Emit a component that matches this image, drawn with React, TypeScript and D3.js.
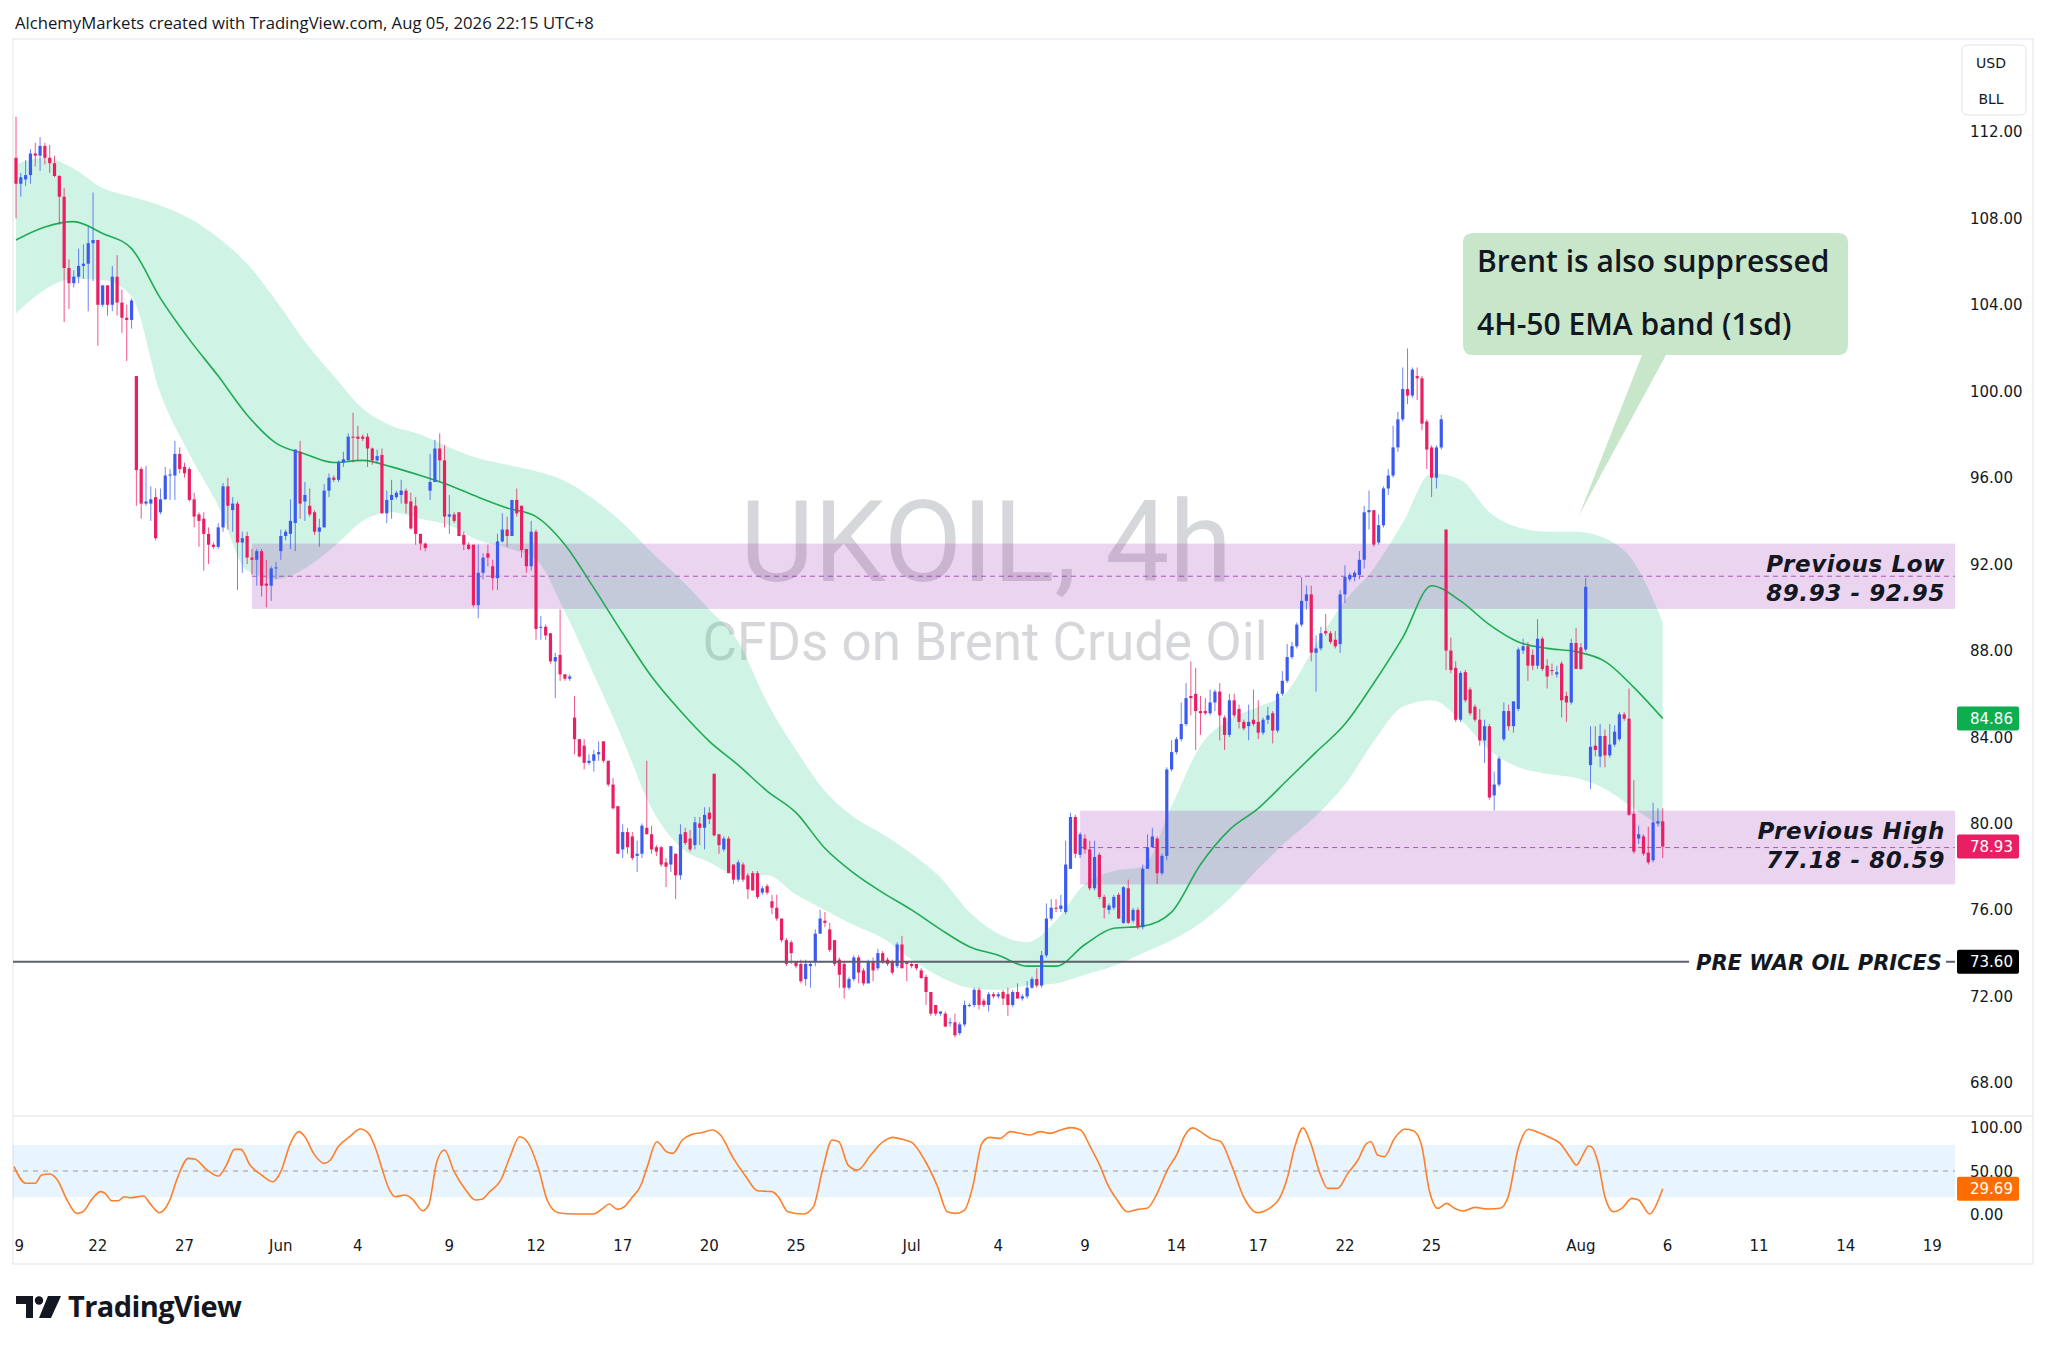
import * as d3 from 'd3';

// 4h candles, [open, high, low, close] (May 19 -> Aug 5)
const ohlc: [number, number, number, number][] = [
  [110.8,112.7,108.0,109.6],[109.6,110.1,109.0,109.9],[109.8,110.7,109.5,110.0],[110.0,111.2,109.6,111.0],[111.0,111.5,110.4,110.9],[110.9,111.75,110.2,111.35],
  [111.35,111.5,110.5,110.8],[110.8,111.4,110.1,110.55],[110.55,110.9,109.9,109.96],[109.96,110.0,107.7,109.0],[109.0,109.4,103.2,105.7],[105.7,106.1,103.8,105.0],
  [105.0,105.6,104.8,105.3],[105.3,106.6,105.0,105.8],[105.8,106.8,105.2,105.9],[105.9,107.6,103.7,106.85],[106.85,109.2,105.1,107.0],[107.0,107.0,102.1,104.0],
  [104.0,104.9,103.9,104.9],[104.9,104.9,103.5,104.0],[104.0,105.8,103.7,105.3],[105.3,106.3,103.5,104.1],[104.1,104.7,102.7,103.4],[103.4,104.0,101.4,103.3],
  [103.3,104.3,102.9,104.2],[100.7,100.7,94.7,96.35],[96.4,96.5,94.1,94.8],[94.8,96.55,94.7,94.9],[94.8,95.6,94.0,95.0],[95.1,95.5,93.1,93.2],
  [94.4,95.5,94.3,95.0],[95.0,96.5,94.97,96.1],[96.1,96.4,94.97,96.15],[96.1,97.7,94.97,97.1],[97.1,97.4,96.2,96.4],[96.5,96.7,96.0,96.2],
  [96.4,96.5,94.9,94.97],[95.0,95.3,93.7,94.2],[94.3,94.4,92.8,94.0],[94.1,94.4,91.7,93.4],[93.4,93.7,92.0,92.9],[92.9,93.0,92.7,92.8],
  [92.8,93.9,92.7,93.7],[93.7,95.75,93.5,95.6],[95.6,96.0,93.6,94.7],[94.5,95.1,93.5,94.8],[94.8,94.9,90.8,93.0],[93.0,93.5,91.6,93.2],
  [93.3,93.5,92.0,92.3],[92.3,92.7,91.5,92.2],[92.2,92.7,91.0,92.6],[92.6,92.7,90.5,91.0],[91.1,92.2,90.0,91.0],[91.0,91.9,90.3,91.8],
  [91.8,92.1,91.3,91.85],[92.6,93.6,92.2,93.3],[93.3,93.6,93.1,93.5],[93.4,95.0,92.7,94.0],[93.9,97.3,92.6,97.3],[97.2,97.7,94.1,94.8],
  [94.9,95.8,94.0,95.2],[94.7,95.5,94.2,94.3],[94.4,94.5,93.35,93.5],[93.5,94.1,92.8,93.7],[93.7,95.7,93.7,95.4],[95.4,96.2,95.1,96.0],
  [96.0,96.1,95.8,95.9],[95.9,96.8,95.8,96.7],[96.7,97.2,96.5,96.85],[96.8,98.05,96.8,97.9],[97.9,99.0,96.7,97.85],[97.9,98.4,96.8,97.8],
  [97.9,98.0,97.7,97.8],[97.9,98.05,96.5,97.35],[97.35,97.4,96.6,96.8],[96.8,97.3,96.7,97.0],[97.05,97.35,94.35,94.35],[94.35,95.4,93.9,94.97],
  [94.97,95.9,94.1,95.2],[95.1,95.4,95.0,95.3],[95.2,95.9,94.8,95.4],[95.4,95.5,94.35,94.8],[94.9,95.3,93.6,93.65],[94.7,95.1,92.9,93.4],
  [93.4,93.4,92.65,92.95],[92.95,93.0,92.6,92.75],[95.4,97.1,94.97,95.8],[95.8,97.75,95.8,97.35],[97.35,98.05,95.8,96.8],[96.8,97.5,93.7,94.2],
  [94.2,95.2,93.4,94.3],[94.3,94.4,93.9,94.0],[94.4,94.4,93.3,93.3],[93.35,93.5,92.65,92.9],[92.9,93.0,92.65,92.7],[92.9,92.9,90.0,90.1],
  [90.1,92.9,89.5,91.6],[91.6,92.5,91.3,92.3],[92.5,92.9,91.9,92.3],[91.9,92.2,90.8,91.35],[91.35,93.4,90.8,93.05],[93.05,94.35,93.0,93.6],
  [93.6,94.2,92.8,93.3],[93.3,94.97,93.3,94.97],[94.97,95.5,94.2,94.35],[94.7,94.7,92.3,92.65],[92.7,92.7,91.6,91.9],[91.9,94.0,91.7,93.5],
  [93.5,93.6,88.5,89.0],[89.1,89.6,88.5,89.1],[89.1,89.2,88.5,88.7],[88.8,88.8,87.4,87.5],[87.5,87.9,85.8,87.7],[87.8,89.9,86.6,86.9],
  [86.9,86.9,86.6,86.7],[86.7,86.9,86.6,86.8],[84.9,85.9,83.2,83.9],[83.9,83.9,83.05,83.1],[83.6,83.9,82.5,82.8],[82.8,83.2,82.7,82.9],
  [82.9,83.4,82.4,83.2],[83.2,83.8,82.9,83.3],[83.8,83.8,82.8,82.9],[82.9,82.9,81.7,81.8],[81.8,82.1,80.65,80.7],[80.8,80.8,78.6,78.6],
  [78.8,79.96,78.4,79.6],[79.6,79.8,78.6,78.9],[79.4,79.6,78.3,78.4],[78.5,79.2,77.75,78.6],[78.6,80.0,78.4,79.9],[79.8,82.9,79.5,79.5],
  [79.5,79.9,78.6,78.8],[78.9,79.0,78.5,78.7],[78.9,78.95,78.0,78.1],[78.2,78.4,77.06,78.0],[78.1,78.95,77.75,78.95],[78.6,78.6,76.5,77.6],
  [77.6,79.96,77.4,79.5],[79.6,79.8,79.0,79.1],[79.3,79.7,78.7,78.8],[79.0,80.3,78.8,80.05],[80.0,80.3,79.0,79.8],[79.8,80.75,78.8,80.4],
  [80.5,80.75,79.97,80.2],[82.3,82.3,79.4,79.45],[79.5,79.5,78.6,79.0],[78.8,79.4,78.7,79.3],[79.3,79.4,77.7,77.7],[78.1,78.1,77.2,77.4],
  [77.4,78.3,77.3,78.2],[78.1,78.2,77.3,77.4],[77.6,77.7,76.5,76.95],[77.7,77.8,76.9,76.9],[77.7,77.8,76.5,76.6],[76.8,77.1,76.7,77.0],
  [77.1,77.2,76.7,76.8],[76.4,76.7,75.8,76.1],[76.1,76.7,75.5,75.6],[75.6,75.6,74.5,74.6],[74.6,74.7,73.4,73.5],[74.5,74.6,73.5,74.0],
  [73.6,73.6,73.3,73.4],[73.5,73.7,72.6,72.7],[72.8,73.7,72.5,73.5],[73.4,73.6,72.4,73.5],[73.6,75.1,73.4,74.9],[74.9,76.0,74.9,75.6],
  [75.5,75.9,75.2,75.4],[75.1,75.4,74.05,74.15],[74.6,74.6,73.4,73.5],[73.7,73.8,72.4,73.0],[73.5,73.6,71.9,72.4],[72.4,72.9,72.3,72.8],
  [72.8,73.9,72.7,73.8],[73.8,73.9,72.6,73.1],[73.2,73.3,72.5,72.6],[72.6,73.7,72.6,73.6],[73.6,73.8,72.7,73.2],[73.3,74.2,73.2,74.0],
  [74.0,74.1,73.5,73.6],[73.7,73.8,73.4,73.5],[73.6,73.7,73.0,73.1],[73.4,74.5,73.3,74.4],[74.4,74.8,73.3,73.3],[73.6,73.6,72.7,73.5],
  [73.5,73.6,73.3,73.4],[73.5,73.5,73.2,73.3],[73.2,73.3,72.8,72.85],[72.9,73.0,71.6,72.2],[72.2,72.2,71.1,71.2],[71.6,71.6,71.1,71.2],
  [71.2,71.3,71.1,71.3],[71.2,71.3,70.6,70.6],[70.8,71.0,70.6,70.8],[70.8,71.2,70.1,70.2],[70.3,70.8,70.2,70.7],[70.7,71.8,70.6,71.6],
  [71.6,71.7,71.5,71.6],[71.6,72.4,71.5,72.3],[72.3,72.4,71.4,71.6],[71.8,71.9,71.5,71.6],[71.6,72.2,71.3,72.1],[72.1,72.2,71.9,72.0],
  [72.0,72.2,71.9,72.1],[72.2,72.3,71.6,71.9],[72.1,72.4,71.1,71.6],[71.6,72.3,71.5,72.2],[72.2,72.6,71.9,71.9],[71.9,72.1,71.8,72.0],
  [72.0,72.7,71.9,72.4],[72.4,72.9,72.35,72.8],[72.8,73.3,72.4,72.5],[72.5,74.1,72.4,73.9],[73.9,76.3,73.8,75.6],[75.6,76.5,75.5,76.1],
  [76.1,76.5,75.9,76.05],[76.05,76.7,75.9,76.2],[75.9,79.2,75.8,78.1],[77.9,80.5,77.9,80.3],[80.3,80.4,78.4,78.6],[78.55,79.6,78.4,79.5],
  [79.3,79.5,78.6,78.8],[78.8,79.2,76.9,77.0],[77.0,79.2,76.9,78.45],[78.55,78.65,76.5,76.6],[76.6,76.7,75.6,76.1],[76.0,76.3,75.8,76.2],
  [76.1,76.7,76.0,76.6],[76.7,76.8,75.6,75.6],[75.4,77.1,75.35,77.05],[77.0,77.4,75.35,75.4],[75.5,76.1,75.4,76.0],[76.0,76.1,75.1,75.2],
  [75.2,78.1,75.1,77.9],[77.9,79.5,77.9,78.9],[78.9,79.8,78.9,79.4],[79.3,79.4,77.2,77.7],[77.7,78.6,77.6,78.5],[78.5,82.6,78.3,82.5],
  [82.5,83.85,82.4,83.3],[83.3,84.0,83.2,83.9],[83.9,85.6,83.8,84.6],[84.6,86.5,84.5,85.8],[85.9,87.5,85.0,85.8],[86.0,87.2,83.4,85.2],
  [85.2,85.9,84.1,85.1],[85.2,85.8,85.0,85.1],[85.1,86.2,85.0,85.6],[85.6,86.2,85.2,86.1],[86.1,86.5,83.85,85.0],[84.9,85.0,83.4,84.1],
  [84.1,86.0,84.0,85.7],[85.7,86.0,84.9,85.0],[85.3,85.5,84.4,84.7],[84.7,84.8,84.3,84.4],[84.5,85.5,83.85,84.7],[84.8,86.2,84.5,84.6],
  [84.7,85.7,83.9,84.2],[84.2,84.9,84.1,84.8],[84.8,85.4,84.6,85.0],[85.1,85.2,83.7,84.3],[84.3,86.1,84.2,86.0],[86.0,87.05,85.9,86.6],
  [86.6,88.3,86.5,87.7],[87.7,88.4,87.6,88.2],[88.2,89.3,88.1,89.2],[89.2,91.4,89.1,90.3],[90.3,91.0,89.9,90.6],[90.6,91.0,87.5,87.9],
  [87.9,88.7,86.1,88.1],[88.1,89.1,88.0,88.8],[88.9,89.7,88.7,88.8],[88.8,88.9,88.3,88.4],[88.5,88.9,88.1,88.2],[88.3,90.8,87.9,90.6],
  [90.6,91.95,90.2,91.4],[91.3,91.6,91.2,91.5],[91.4,91.7,91.2,91.6],[91.5,92.6,91.3,92.2],[92.2,94.7,91.8,94.4],[94.4,95.4,93.6,94.5],
  [94.5,94.5,92.8,92.9],[93.0,94.3,92.9,93.8],[93.8,95.6,93.7,95.5],[95.5,96.4,95.2,96.1],[96.1,98.4,96.0,97.4],[97.4,99.05,97.2,98.7],
  [98.7,101.1,98.6,100.1],[100.1,101.98,99.4,99.8],[99.8,101.1,99.7,101.0],[100.7,101.1,99.6,100.6],[100.6,100.7,98.2,98.5],[98.6,98.7,96.4,97.3],
  [97.4,97.5,95.1,96.0],[96.0,97.5,95.5,97.4],[97.4,98.9,97.3,98.7],[93.6,93.6,87.1,88.0],[88.0,88.6,86.95,87.1],[87.2,87.5,84.7,84.8],
  [84.8,87.05,84.7,86.96],[87.0,87.1,85.6,85.7],[86.2,86.3,85.0,85.1],[85.4,85.5,84.7,84.8],[84.8,85.3,83.6,83.84],[83.84,84.8,82.8,84.5],
  [84.5,84.6,81.1,81.2],[81.3,82.4,80.6,81.8],[81.8,83.1,81.7,83.0],[83.9,85.6,83.8,85.2],[85.2,85.5,84.3,84.5],[84.5,85.65,84.2,85.65],
  [85.3,88.15,85.2,88.05],[88.0,88.55,87.85,88.2],[88.2,88.4,86.6,87.3],[87.8,88.05,87.1,87.3],[87.3,89.45,87.15,88.55],[88.55,88.65,87.05,87.15],
  [87.3,87.6,86.25,86.8],[87.1,87.4,86.85,87.05],[86.9,87.3,86.75,87.0],[87.4,87.5,84.9,85.7],[85.9,86.1,84.7,85.6],[85.6,88.55,85.5,88.35],
  [88.35,89.05,87.15,87.15],[88.15,88.35,87.1,87.15],[88.05,91.35,87.95,90.95],[82.7,84.5,81.6,83.55],[83.6,84.5,83.1,83.4],[83.1,84.6,82.6,84.05],
  [84.05,84.35,82.6,83.15],[83.15,84.6,83.05,83.65],[83.65,84.55,83.55,84.25],[83.9,85.15,83.8,85.05],[85.05,85.15,84.75,84.85],[84.85,86.25,80.35,80.4],
  [80.45,82.0,78.6,78.7],[79.3,79.9,79.05,79.5],[79.4,79.5,78.5,78.6],[78.65,79.85,78.1,78.2],[78.3,80.95,78.2,80.05],[80.0,80.7,79.85,80.1],
  [80.1,80.7,78.4,78.93],
];

// 50 EMA and its 1sd band, one reading per trading day (every 6 bars)
const emaDaily = [107.0,107.6,107.85,107.3,106.6,104.3,102.4,100.7,98.9,97.6,97.1,96.7,96.8,96.5,96.1,95.65,95.1,94.6,94.2,92.9,90.9,88.8,86.8,85.2,83.8,82.7,81.5,80.5,78.85,77.7,76.8,76.0,75.1,74.3,73.9,73.4,73.4,74.4,75.15,75.25,75.9,78.1,79.7,80.7,82.0,83.3,84.6,86.5,88.6,91.0,90.3,89.2,88.4,88.1,87.95,87.5,86.3,84.86];
const bandUpperDaily = [110.5,110.8,110.3,109.4,109.0,108.6,108.0,107.1,105.9,104.2,102.3,100.7,99.2,98.4,98.0,97.4,96.9,96.6,96.3,95.85,95.0,93.9,92.55,91.3,89.9,88.4,85.6,83.4,81.5,80.3,79.5,78.6,77.5,75.9,74.9,74.5,75.5,77.2,77.8,78.0,80.8,83.6,84.8,85.4,86.1,88.3,90.3,91.8,93.9,96.2,95.9,94.4,93.7,93.5,93.5,93.2,92.1,89.3];
const bandLowerDaily = [103.6,104.7,105.2,105.15,104.4,99.9,97.1,94.7,91.7,91.3,91.8,92.8,94.0,94.4,94.1,93.8,93.1,92.75,92.2,89.8,86.9,83.9,80.7,78.9,78.2,77.6,77.6,76.7,76.0,75.3,74.7,73.7,72.9,72.4,72.3,72.5,72.6,73.0,73.4,74.0,74.6,75.4,76.5,77.9,79.2,80.35,81.8,83.8,85.4,85.7,84.8,83.4,82.6,82.3,82.1,81.6,80.7,79.8];
const barsPerDay = 6;

// oscillator readings, [bar, value]
const oscPoints: [number, number][] = [
  [-0.4,55],[2,36],[4,36],[5.3,45.4],[7,46.5],[8.6,39.7],[10.6,16.7],[12.6,1.4],[13.9,3.3],[15.9,18.6],[17.6,26.3],[18.5,24.4],[19.9,15.9],[21.2,15.9],[22.5,20.5],[23.8,19.4],[26.5,21.3],[27.8,12.9],[29.8,2.2],[31.8,14.8],
  [33.5,41.6],[35.8,64.5],[37.1,63.7],[39.7,51.1],[42,44.2],[43.7,56.8],[45.4,74.8],[46.7,74.8],[48.6,56.8],[51,45.4],[53.4,37.7],[55,49.2],[57,81.7],[58.7,95.1],[60,89.3],[61.8,70.2],[64,58.8],[65.3,62.6],[66.9,77.9],[69.3,89.3],
  [71.5,98.1],[73.2,93.2],[74.8,74.1],[76.1,51.1],[77.5,28.9],[78.8,20.5],[80.8,22.4],[82.5,16.7],[84.4,4.5],[85.7,11.0],[87.4,60.7],[89,74.1],[91,49.2],[93.4,28.2],[95.4,16.7],[96.7,17.5],[98.4,26.3],[100.7,39.7],[102.6,66.4],[104.6,89.3],
  [106.4,81.7],[108.6,51.1],[110.3,16.7],[112.6,2.2],[115.9,0.7],[119.9,0.7],[121.9,7.2],[123.2,12.1],[124.9,6.0],[126.5,9.8],[127.8,18.6],[129.8,33.9],[131.1,55.0],[133.1,83.6],[135.1,72.1],[136.4,70.2],[138.4,85.5],[140.4,92.0],[142.4,93.9],[144.6,97.0],
  [146.3,91.2],[149,64.5],[151.6,43.5],[154,27.4],[157,26.3],[158.3,20.5],[160.3,3.3],[163.6,0.7],[165.6,9.1],[167.5,51.1],[169.5,85.5],[170.9,83.6],[172.8,56.8],[174.8,51.1],[177.5,68.3],[180.1,83.6],[182.1,88.6],[184.1,86.3],[186.1,82.5],[188.7,62.6],
  [191.4,32.0],[193.4,3.3],[195.3,1.4],[197,5.2],[198.7,32.0],[200.6,81.7],[202.2,88.6],[204.4,87.4],[206.5,95.1],[208.6,93.2],[210.6,91.3],[212.7,95.1],[214.8,93.2],[216.9,97.0],[219,99.7],[221.1,97.0],[223.1,77.9],[225.2,55.0],[226.6,35.8],[228.7,16.7],
  [230.8,3.3],[232.9,6.0],[234.9,7.2],[237,24.4],[239.1,51.1],[241.2,70.2],[242.6,89.3],[244.4,99.5],[246,95.1],[248.1,87.4],[250.2,83.6],[252.3,58.8],[255.1,18.6],[257.8,2.2],[260.6,8.3],[262.4,18.6],[264.1,43.5],[265.5,76.0],[267.3,99.5],[268.9,81.7],
  [270.8,47.3],[272.4,30.1],[274.5,30.1],[276.6,47.3],[278.7,62.6],[280.5,81.7],[281.4,83.6],[282.8,68.3],[284.2,66.4],[286.3,87.4],[288.4,97.8],[290.2,96.2],[291.9,79.8],[293.5,28.2],[295.3,7.2],[297.1,12.9],[298.8,7.2],[300.5,4.1],[303,8.3],[305.7,6.4],
  [308.2,7.2],[309.9,20.5],[312,76.0],[314.1,97.8],[316.1,94.3],[318.2,89.3],[320.7,81.7],[322.7,66.4],[324.1,56.8],[325.4,68.3],[326.6,78.6],[327.2,77.9],[328.6,58.8],[330,20.5],[331.8,3.3],[333.5,7.2],[335.6,18.6],[337,16.7],[339.3,0.7],[341.1,16.7],
  [342,29.69],
];

const priceTicks = [112, 108, 104, 100, 96, 92, 88, 84, 80, 76, 72, 68];
const oscTicks = [100, 50, 0];
const dateTickBars = [-0.3, 17, 35, 55, 71, 90, 108, 126, 144, 162, 186, 204, 222, 241, 258, 276, 294, 325, 343, 362, 380, 398];
const dateTickLabels = ['19', '22', '27', 'Jun', '4', '9', '12', '17', '20', '25', 'Jul', '4', '9', '14', '17', '22', '25', 'Aug', '6', '11', '14', '19'];

const zones = [
  { title: 'Previous Low', low: 89.93, high: 92.95, fromBar: 49 },
  { title: 'Previous High', low: 77.18, high: 80.59, fromBar: 221 },
];
const preWarPrice = 73.6;
const emaLast = 84.86;
const oscLast = 29.69;
const calloutTip = { bar: 324.6, price: 94.25 };

const UP = '#3b5bf0';
const DOWN = '#e91e63';
const AXIS_FONT = '"DejaVu Sans", sans-serif';

export default function App() {
  const W = 2048;
  const H = 1352;
  const frame = { left: 13, top: 39, right: 2033, bottom: 1264 };
  const plotRight = 1955;
  const paneSplit = 1116;
  const oscBottom = 1228;

  const x = d3.scaleLinear().domain([0, 400]).range([16, 1942]);
  const y = d3.scaleLinear().domain([68, 112]).range([1082.8, 131.9]);
  const yOsc = d3.scaleLinear().domain([0, 100]).range([1214.6, 1127.4]);

  const band = d3
    .area<number>()
    .x((_, k) => x(k * barsPerDay))
    .y0((_, k) => y(bandLowerDaily[k]))
    .y1((d) => y(d))
    .curve(d3.curveMonotoneX);
  const emaLine = d3
    .line<number>()
    .x((_, k) => x(k * barsPerDay))
    .y((d) => y(d))
    .curve(d3.curveMonotoneX);
  const oscLine = d3
    .line<[number, number]>()
    .x((d) => x(d[0]))
    .y((d) => yOsc(d[1]))
    .curve(d3.curveMonotoneX);

  const lastClose = ohlc[ohlc.length - 1][3];
  const bodyW = 3.2;

  const priceBox = (value: number, yPos: number, fill: string) => (
    <g>
      <rect x={1957} y={yPos - 12} width={62} height={24} rx={2} fill={fill} />
      <text x={1970} y={yPos + 5.5} fontSize={15} fill="#ffffff" fontFamily={AXIS_FONT}>
        {value.toFixed(2)}
      </text>
    </g>
  );

  const tipX = x(calloutTip.bar);
  const tipY = y(calloutTip.price);
  const preWarY = y(preWarPrice);

  return (
    <>
      <style>{`body{margin:0}`}</style>
      <svg width={W} height={H} style={{ display: 'block', background: '#ffffff' }}>
        <defs>
          <clipPath id="mainClip">
            <rect x={frame.left} y={frame.top} width={plotRight - frame.left} height={paneSplit - frame.top} />
          </clipPath>
          <clipPath id="oscClip">
            <rect x={frame.left} y={paneSplit} width={plotRight - frame.left} height={oscBottom - paneSplit} />
          </clipPath>
          <clipPath id="axisClip">
            <rect x={frame.left + 1} y={oscBottom} width={frame.right - frame.left} height={frame.bottom - oscBottom} />
          </clipPath>
        </defs>

        <text x={15} y={29} fontSize={16.7} fill="#131722" fontFamily='"Open Sans", sans-serif'>
          AlchemyMarkets created with TradingView.com, Aug 05, 2026 22:15 UTC+8
        </text>

        <rect x={frame.left} y={frame.top} width={frame.right - frame.left} height={frame.bottom - frame.top} fill="none" stroke="#e0e3eb" />
        <line x1={frame.left} x2={frame.right} y1={paneSplit} y2={paneSplit} stroke="#e0e3eb" />

        <g clipPath="url(#mainClip)">
          <text x={986} y={581} textAnchor="middle" fontSize={114} fill="rgba(120,123,134,0.3)" fontFamily="Roboto, sans-serif">
            UKOIL, 4h
          </text>
          <text x={985} y={660} textAnchor="middle" fontSize={53} fill="rgba(120,123,134,0.3)" fontFamily="Roboto, sans-serif">
            CFDs on Brent Crude Oil
          </text>

          <path d={band(bandUpperDaily) ?? ''} fill="rgba(38,200,130,0.22)" />

          {zones.map((z) => (
            <g key={z.title}>
              <rect x={x(z.fromBar)} y={y(z.high)} width={plotRight - x(z.fromBar)} height={y(z.low) - y(z.high)} fill="rgba(156,39,176,0.2)" />
              <line x1={x(z.fromBar)} x2={plotRight} y1={y((z.low + z.high) / 2)} y2={y((z.low + z.high) / 2)} stroke="#9c27b0" strokeOpacity={0.75} strokeDasharray="5 4" />
            </g>
          ))}

          <path d={emaLine(emaDaily) ?? ''} fill="none" stroke="#1fab55" strokeWidth={1.6} />

          {ohlc.map(([o, h, l, c], i) => {
            const col = c >= o ? UP : DOWN;
            const top = y(Math.max(o, c));
            const bot = y(Math.min(o, c));
            return (
              <g key={i}>
                <line x1={x(i)} x2={x(i)} y1={y(h)} y2={y(l)} stroke={col} strokeOpacity={0.75} strokeWidth={1} />
                <rect x={x(i) - bodyW / 2} y={top} width={bodyW} height={Math.max(1, bot - top)} fill={col} />
              </g>
            );
          })}

          <line x1={frame.left} x2={1689} y1={preWarY} y2={preWarY} stroke="#5d606b" strokeWidth={2} />
          <line x1={1946} x2={plotRight} y1={preWarY} y2={preWarY} stroke="#5d606b" strokeWidth={2} />
          <text x={1942} y={preWarY + 8} textAnchor="end" fontSize={21} fontWeight="bold" fontStyle="italic" fill="#131722" fontFamily={AXIS_FONT}>
            PRE WAR OIL PRICES
          </text>

          {zones.map((z) => (
            <g key={z.title + 't'} fontFamily={AXIS_FONT} fontWeight="bold" fontStyle="italic" fontSize={23} fill="#131722" letterSpacing={0.6} textAnchor="end">
              <text x={1945} y={y(z.high) + 28}>{z.title}</text>
              <text x={1945} y={y(z.high) + 57}>{`${z.low.toFixed(2)} - ${z.high.toFixed(2)}`}</text>
            </g>
          ))}

          <path d={`M1473,233 H1838 Q1848,233 1848,243 V345 Q1848,355 1838,355 H1666 L${tipX},${tipY} L1642,355 H1473 Q1463,355 1463,345 V243 Q1463,233 1473,233 Z`} fill="#c8e6c9" />
          <g fontFamily='"Open Sans", sans-serif' fontWeight={600} fontSize={30} fill="#131722">
            <text x={1477} y={272}>Brent is also suppressed</text>
            <text x={1477} y={335}>4H-50 EMA band (1sd)</text>
          </g>
        </g>

        <g clipPath="url(#oscClip)">
          <rect x={frame.left} y={yOsc(80)} width={plotRight - frame.left} height={yOsc(20) - yOsc(80)} fill="rgba(33,150,243,0.1)" />
          <line x1={frame.left} x2={plotRight} y1={yOsc(50)} y2={yOsc(50)} stroke="#9598a1" strokeDasharray="5 5" />
          <path d={oscLine(oscPoints) ?? ''} fill="none" stroke="#ff7f2a" strokeWidth={1.6} />
        </g>

        <g fontFamily={AXIS_FONT} fontSize={15} fill="#131722">
          {priceTicks.map((p) => (
            <text key={p} x={1970} y={y(p) + 5.5}>{p.toFixed(2)}</text>
          ))}
          {oscTicks.map((v) => (
            <text key={v} x={1970} y={yOsc(v) + 5.5}>{v.toFixed(2)}</text>
          ))}
        </g>

        <rect x={1962} y={45} width={64} height={70} rx={5} fill="#ffffff" stroke="#e0e3eb" />
        <g fontFamily={AXIS_FONT} fontSize={14} fill="#131722" textAnchor="middle">
          <text x={1991} y={68}>USD</text>
          <text x={1991} y={104}>BLL</text>
        </g>

        {priceBox(emaLast, y(emaLast), '#0dae4f')}
        {priceBox(lastClose, y(lastClose), DOWN)}
        {priceBox(preWarPrice, preWarY, '#000000')}
        {priceBox(oscLast, yOsc(oscLast), '#ff6d00')}

        <g clipPath="url(#axisClip)" fontFamily={AXIS_FONT} fontSize={15} fill="#131722" textAnchor="middle">
          {dateTickBars.map((b, k) => (
            <text key={k} x={x(b)} y={1251}>{dateTickLabels[k]}</text>
          ))}
        </g>

        <g fill="#131722">
          <path d="M16,1296 H33 V1318 H26 V1304 H16 Z" />
          <circle cx={39} cy={1300.5} r={4.2} />
          <path d="M48,1296 H61 L51,1318 H39 Z" />
          <text x={68} y={1317} fontSize={29} fontWeight={700} fontFamily='"Open Sans", sans-serif' letterSpacing={-0.6}>
            TradingView
          </text>
        </g>
      </svg>
    </>
  );
}
